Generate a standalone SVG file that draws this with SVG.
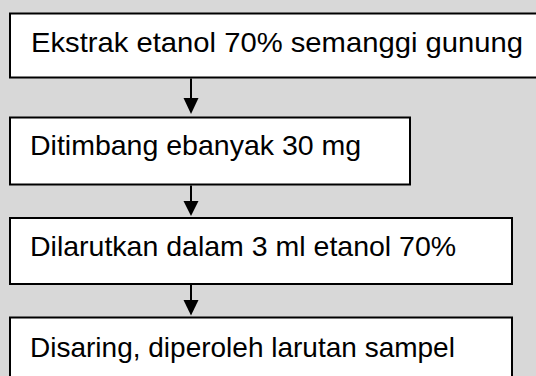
<svg xmlns="http://www.w3.org/2000/svg" width="536" height="376" viewBox="0 0 536 376">
  <defs>
    <style>
      .box { fill: #ffffff; stroke: #000000; stroke-width: 2; }
      .label { font-family: "Liberation Sans", Arial, sans-serif; font-size: 28.5px; fill: #000000; }
      .conn { stroke: #000000; stroke-width: 2; fill: none; }
      .head { fill: #000000; stroke: none; }
    </style>
  </defs>
  <rect x="0" y="0" width="536" height="376" fill="#d8d8d8"/>
  <g id="node1">
    <rect class="box" x="10" y="13.5" width="540" height="64"/>
    <text class="label" x="31" y="52" textLength="492" lengthAdjust="spacingAndGlyphs">Ekstrak etanol 70% semanggi gunung</text>
  </g>
  <g id="node2">
    <rect class="box" x="10" y="117.5" width="400" height="67"/>
    <text class="label" x="30" y="155">Ditimbang ebanyak 30 mg</text>
  </g>
  <g id="node3">
    <rect class="box" x="10" y="218" width="502" height="66"/>
    <text class="label" x="30" y="256">Dilarutkan dalam 3 ml etanol 70%</text>
  </g>
  <g id="node4">
    <rect class="box" x="10" y="317.5" width="502" height="70"/>
    <text class="label" x="30" y="356.5" style="font-size:28px">Disaring, diperoleh larutan sampel</text>
  </g>
  <g id="connectors">
    <line class="conn" x1="191" y1="78.5" x2="191" y2="100"/>
    <polygon class="head" points="183.5,98 198.5,98 191,114"/>
    <line class="conn" x1="191" y1="185.5" x2="191" y2="203"/>
    <polygon class="head" points="183.5,201 198.5,201 191,216"/>
    <line class="conn" x1="191" y1="285" x2="191" y2="302"/>
    <polygon class="head" points="183.5,300 198.5,300 191,315.5"/>
  </g>
</svg>
